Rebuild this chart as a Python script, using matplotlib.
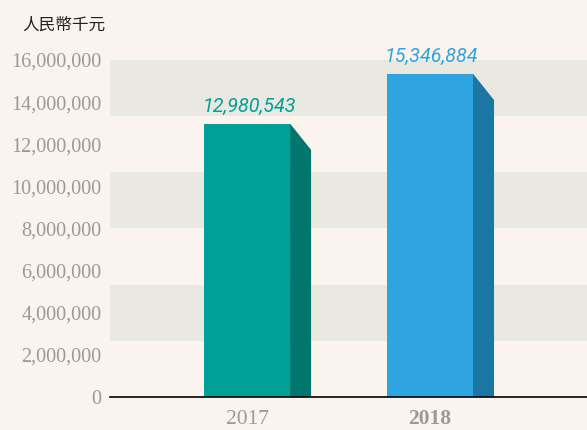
import matplotlib.pyplot as plt
from matplotlib.patches import Polygon
from matplotlib.ticker import FuncFormatter

years = ['2017', '2018']
values = [12980543, 15346884]
front_colors = ['#00A096', '#2EA5E0']
side_colors = ['#00766C', '#1A77A3']
yticks = [0, 2000000, 4000000, 6000000, 8000000, 10000000, 12000000, 14000000, 16000000]

bg = '#FBF3EE'
band = '#E9E9E1'

fig = plt.figure(figsize=(5.87, 4.30), dpi=100, facecolor=bg)
ax = fig.add_axes([110 / 587, 33 / 430, 477 / 587, 337 / 430])
ax.set_facecolor(bg)

ymax = 16000000
ax.set_ylim(0, ymax)
ax.set_xlim(-0.749, 1.858)

# 横向色带
step = ymax / 6
for k in (1, 3, 5):
    ax.axhspan(step * k, step * (k + 1), color=band, lw=0, zorder=0)

width = 0.47
dx = 0.115
dy = 1.25e6
x = range(len(years))
for i, v in zip(x, values):
    ax.bar(i, v, width=width, color=front_colors[i], zorder=3)
    right = i + width / 2
    side = Polygon([(right, v), (right + dx, v - dy), (right + dx, 0), (right, 0)],
                   closed=True, color=side_colors[i], lw=0, zorder=2)
    ax.add_patch(side)
    ax.text(i + 0.01, v + 350000, f'{v:,}', ha='center', va='bottom',
            fontsize=14.2, style='italic', family='Roboto',
            color=front_colors[i], clip_on=False, zorder=4)

ax.set_yticks(yticks)
ax.yaxis.set_major_formatter(FuncFormatter(lambda v, p: f'{int(v):,}'))
ax.set_xticks(list(x))
ax.set_xticklabels(years)
for lab in ax.get_yticklabels():
    lab.set_family('Liberation Serif')
    lab.set_fontsize(14.6)
    lab.set_color('#9A9A9A')
for lab in ax.get_xticklabels():
    lab.set_family('Liberation Serif')
    lab.set_fontsize(15.5)
    lab.set_color('#9A9A9A')
ax.get_xticklabels()[1].set_fontweight('bold')
ax.tick_params(axis='both', length=0)
ax.tick_params(axis='y', pad=6)
ax.tick_params(axis='x', pad=9)

for s in ['top', 'right', 'left']:
    ax.spines[s].set_visible(False)
ax.spines['bottom'].set_color('black')
ax.spines['bottom'].set_linewidth(1.2)
ax.spines['bottom'].set_zorder(5)

fig.text(22 / 587, 1 - 25 / 430, '人民幣千元', ha='left', va='center',
         fontsize=12, family=['Noto Sans CJK TC', 'DejaVu Sans'], color='#222222')

fig.savefig('out.png', dpi=100, facecolor=bg)
